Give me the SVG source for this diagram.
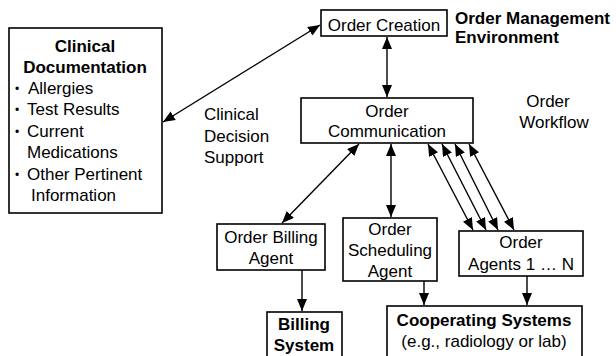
<svg xmlns="http://www.w3.org/2000/svg" width="616" height="356" viewBox="0 0 616 356">
<defs>
<style>
.box{fill:#fff;stroke:#000;stroke-width:1.6}
.t{font-family:"Liberation Sans",Arial,sans-serif;font-size:17px;fill:#000}
.bu{font-family:"Liberation Sans",Arial,sans-serif;font-size:12px;fill:#000}
.b{font-weight:bold}
.m{text-anchor:middle}
.ln{stroke:#000;stroke-width:1.4;fill:none;marker-end:url(#ah);marker-start:url(#ahs)}
.one{stroke:#000;stroke-width:1.4;fill:none;marker-end:url(#ah)}
</style>
<marker id="ah" viewBox="0 0 12 10" refX="12" refY="5" markerWidth="12" markerHeight="10" markerUnits="userSpaceOnUse" orient="auto">
<path d="M0,0 L12,5 L0,10 Z" fill="#000"/>
</marker>
<marker id="ahs" viewBox="0 0 12 10" refX="0" refY="5" markerWidth="12" markerHeight="10" markerUnits="userSpaceOnUse" orient="auto">
<path d="M12,0 L0,5 L12,10 Z" fill="#000"/>
</marker>
</defs>
<rect width="616" height="356" fill="#fff"/>

<g id="connectors">
<line class="ln" x1="163" y1="122" x2="320" y2="25"/>
<line class="ln" x1="387" y1="37" x2="387" y2="97"/>
<line class="ln" x1="359" y1="144" x2="282" y2="223"/>
<line class="ln" x1="391" y1="144" x2="391" y2="217"/>
<line class="ln" x1="428" y1="144" x2="473" y2="230"/>
<line class="ln" x1="442" y1="144" x2="486" y2="230"/>
<line class="ln" x1="455" y1="144" x2="498" y2="230"/>
<line class="ln" x1="469" y1="144" x2="514" y2="230"/>
<line class="one" x1="302" y1="270" x2="302" y2="311"/>
<line class="one" x1="424" y1="281" x2="424" y2="305"/>
<line class="one" x1="527" y1="276" x2="527" y2="305"/>
</g>

<g id="clinical-documentation">
<rect class="box" x="9" y="28" width="153" height="185"/>
<text class="t b m" x="85" y="52">Clinical</text>
<text class="t b m" x="85" y="73">Documentation</text>
<text class="bu" x="15" y="93">•</text><text class="t" x="28" y="94">Allergies</text>
<text class="bu" x="15" y="114">•</text><text class="t" x="27" y="115">Test Results</text>
<text class="bu" x="15" y="136">•</text><text class="t" x="27" y="137">Current</text>
<text class="t" x="27" y="158">Medications</text>
<text class="bu" x="15" y="179">•</text><text class="t" x="27" y="180">Other Pertinent</text>
<text class="t" x="31" y="201">Information</text>
</g>

<g id="order-creation">
<rect class="box" x="321" y="10" width="126" height="26"/>
<text class="t m" x="384" y="31">Order Creation</text>
</g>

<g id="order-management-label">
<text class="t b" x="455" y="24">Order Management</text>
<text class="t b" x="455" y="43">Environment</text>
</g>

<g id="clinical-decision-support">
<text class="t" x="204" y="120">Clinical</text>
<text class="t" x="204" y="142">Decision</text>
<text class="t" x="204" y="163">Support</text>
</g>

<g id="order-workflow">
<text class="t m" x="548" y="107">Order</text>
<text class="t m" x="554" y="128">Workflow</text>
</g>

<g id="order-communication">
<rect class="box" x="301" y="98" width="172" height="45"/>
<text class="t m" x="387" y="117">Order</text>
<text class="t m" x="387" y="137">Communication</text>
</g>

<g id="order-billing-agent">
<rect class="box" x="217" y="224" width="108" height="46"/>
<text class="t m" x="271" y="243">Order Billing</text>
<text class="t m" x="271" y="264">Agent</text>
</g>

<g id="order-scheduling-agent">
<rect class="box" x="343" y="218" width="94" height="63"/>
<text class="t m" x="390" y="235">Order</text>
<text class="t m" x="390" y="256">Scheduling</text>
<text class="t m" x="390" y="277">Agent</text>
</g>

<g id="order-agents">
<rect class="box" x="459" y="231" width="124" height="45"/>
<text class="t m" x="521" y="248">Order</text>
<text class="t m" x="521" y="270">Agents 1 … N</text>
</g>

<g id="billing-system">
<rect class="box" x="267" y="312" width="75" height="60"/>
<text class="t b m" x="304" y="330">Billing</text>
<text class="t b m" x="304" y="351">System</text>
</g>

<g id="cooperating-systems">
<rect class="box" x="387" y="306" width="195" height="60"/>
<text class="t b m" x="484" y="326">Cooperating Systems</text>
<text class="t m" x="484" y="347">(e.g., radiology or lab)</text>
</g>
</svg>
